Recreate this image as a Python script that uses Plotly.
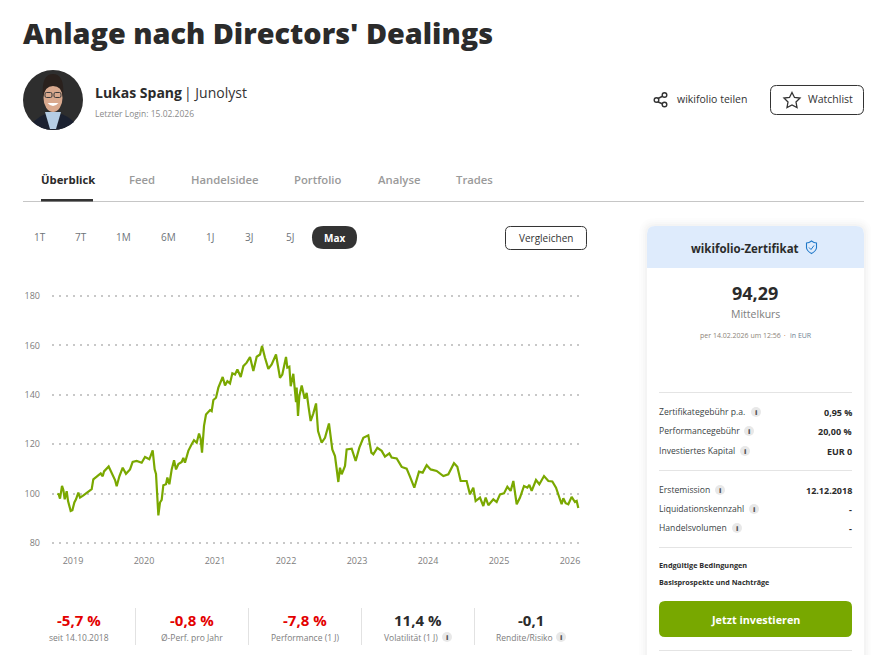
import plotly.graph_objects as go

W, H = 871, 655
FONT = "Open Sans"
GREEN = "#78a800"
DARK = "#2b2b2b"
GRAY = "#6f7479"

years = [2018.779,2018.798,2018.817,2018.845,2018.864,2018.883,2018.911,2018.930,2018.967,2018.991,
2019.019,2019.042,2019.075,2019.099,2019.146,2019.192,2019.263,2019.286,2019.333,2019.390,2019.418,2019.437,2019.502,2019.545,2019.592,2019.615,2019.653,2019.700,2019.746,2019.803,2019.840,2019.897,2019.967,
2020.014,2020.075,2020.122,2020.150,2020.169,2020.202,2020.225,2020.249,2020.272,2020.310,2020.329,2020.357,2020.390,2020.423,2020.451,2020.484,2020.531,2020.554,2020.577,2020.624,2020.671,2020.704,2020.742,2020.775,2020.798,2020.817,2020.845,2020.873,2020.930,2020.953,2020.977,
2021.014,2021.047,2021.108,2021.141,2021.174,2021.211,2021.244,2021.282,2021.315,2021.362,2021.399,2021.446,2021.493,2021.540,2021.587,2021.634,2021.662,2021.704,2021.751,2021.798,2021.859,2021.915,2021.948,
2022.000,2022.019,2022.047,2022.066,2022.103,2022.141,2022.150,2022.169,2022.188,2022.221,2022.263,2022.291,2022.319,2022.347,2022.385,2022.423,2022.451,2022.502,2022.549,2022.605,2022.652,2022.690,2022.737,2022.760,2022.784,2022.831,2022.854,2022.925,2022.981,
2023.033,2023.089,2023.159,2023.202,2023.230,2023.286,2023.347,2023.394,2023.455,2023.488,2023.559,2023.629,2023.699,2023.746,2023.807,2023.873,2023.925,2023.981,
2024.037,2024.122,2024.216,2024.286,2024.366,2024.413,2024.460,2024.544,2024.591,2024.638,2024.671,2024.732,2024.779,2024.812,2024.850,2024.920,2024.967,
2025.014,2025.070,2025.117,2025.164,2025.202,2025.249,2025.296,2025.352,2025.399,2025.427,2025.460,2025.521,2025.568,2025.634,2025.695,2025.751,2025.803,2025.849,2025.882,2025.906,2025.939,2025.976,
2026.023,2026.070,2026.094,2026.117]

values = [100,99.7,98,103.1,101.5,97.7,101,97,93,93.3,
96.4,97.7,100.4,98.4,99.3,100.4,101.8,105.8,107,108.2,107,109,111,108.5,105.5,103,107,110.5,108,109.8,112.8,113.2,112.5,
114.8,113.9,117.5,109.8,108,91.2,96.4,97.5,103.4,103.8,106.5,103.8,109.8,113.5,109.8,112,112.8,114.5,112.5,117.3,120,121.6,120.6,124.3,122.2,116.6,127.4,132,133.8,133.4,137.9,
138.8,142.9,147.2,143.8,145.5,144.6,148.7,148.2,150.3,147.2,151.6,153,155.3,149.6,155.4,156.3,159.8,155,150.5,152.3,156.3,146.9,148.2,
155.3,151,151.4,143.5,148.5,137,142.9,131.4,139.5,143.8,138.4,140.8,134.8,129.4,132.5,136.5,125.3,120.6,122.6,128.4,117.9,115.2,104.7,110.5,107.8,111.2,117.9,118.2,113.2,
118.6,122.6,123.6,116.6,115.9,118.5,117.3,115,116.3,114.6,114.2,110.8,110.1,106.9,102.4,108.9,108.5,111.5,
109.8,109.2,107.1,107.8,112.3,110.9,105.1,105.1,99.7,102.4,97,98.4,95,98.4,95.3,97.7,96.6,
99.7,100.1,102.8,101.1,105.1,95.7,98.4,103.1,102.4,103.5,101.1,105.5,103.8,107.1,105.1,104.9,102.4,98.4,95.7,98.1,96.1,95.7,
98.7,96.6,97,94.2]

year_ticks = [2019,2020,2021,2022,2023,2024,2025,2026]
value_ticks = [80,100,120,140,160,180]
tabs = ["Überblick","Feed","Handelsidee","Portfolio","Analyse","Trades"]
periods = ["1T","7T","1M","6M","1J","3J","5J"]
kpi_values = ["-5,7 %","-0,8 %","-7,8 %","11,4 %","-0,1"]
kpi_labels = ["seit 14.10.2018","Ø-Perf. pro Jahr","Performance (1 J)","Volatilität (1 J)","Rendite/Risiko"]
rows = [("Zertifikategebühr p.a.","0,95 %"),("Performancegebühr","20,00 %"),("Investiertes Kapital","EUR 0"),
        ("Erstemission","12.12.2018"),("Liquidationskennzahl","-"),("Handelsvolumen","-")]

px = lambda x: x / W
py = lambda y: 1 - y / H
ann, shp = [], []

def text(x, y, s, size=10, color=DARK, weight=400, anchor="left", font=FONT):
    ann.append(dict(x=px(x), y=py(y), xref="paper", yref="paper", text=s, showarrow=False,
                    xanchor=anchor, yanchor="middle", borderpad=0, borderwidth=0,
                    font=dict(family=font, size=size, color=color, weight=weight)))

def line(x0, y0, x1, y1, color="#e4e4e4", width=1):
    shp.append(dict(type="line", xref="paper", yref="paper", x0=px(x0), y0=py(y0), x1=px(x1), y1=py(y1),
                    line=dict(color=color, width=width)))

def circle(cx, cy, rx, ry=None, fill="#e6e6e6", stroke=None, width=0):
    ry = rx if ry is None else ry
    shp.append(dict(type="circle", xref="paper", yref="paper", x0=px(cx-rx), x1=px(cx+rx), y0=py(cy+ry), y1=py(cy-ry),
                    fillcolor=fill, line=dict(color=stroke or "rgba(0,0,0,0)", width=width)))

def path(points_d, fill="rgba(0,0,0,0)", stroke="rgba(0,0,0,0)", width=0):
    shp.append(dict(type="path", xref="paper", yref="paper", path=points_d, fillcolor=fill,
                    line=dict(color=stroke, width=width)))

def P(x, y):
    return f"{px(x):.5f},{py(y):.5f}"

def rrect(x0, y0, x1, y1, r=6, fill="rgba(0,0,0,0)", stroke="rgba(0,0,0,0)", width=0, top_only=False):
    rb = 0 if top_only else r
    d = (f"M{P(x0+r,y0)} L{P(x1-r,y0)} Q{P(x1,y0)} {P(x1,y0+r)} L{P(x1,y1-rb)} Q{P(x1,y1)} {P(x1-rb,y1)} "
         f"L{P(x0+rb,y1)} Q{P(x0,y1)} {P(x0,y1-rb)} L{P(x0,y0+r)} Q{P(x0,y0)} {P(x0+r,y0)} Z")
    path(d, fill, stroke, width)

def info(cx, cy):
    circle(cx, cy, 5, fill="#e8e8e8")
    text(cx, cy, "i", size=7.5, color="#555", weight=800, anchor="center")

# header
text(23, 33, "Anlage nach Directors' Dealings", size=28.8, weight=800)
# avatar
circle(53, 100, 30, fill="#2e2e2e")
path(f"M{P(33,122)} Q{P(40,116)} {P(47,113)} L{P(59,113)} Q{P(68,116)} {P(74,122)} Q{P(65,130)} {P(53,130)} Q{P(41,130)} {P(33,122)} Z", fill="#1b2130")
path(f"M{P(45,112)} L{P(61,112)} L{P(56,129)} L{P(50,129)} Z", fill="#b5cde4")
circle(53, 98, 9.5, 14, fill="#d9a98e")
path(f"M{P(43,97)} Q{P(41,74)} {P(53,74)} Q{P(65,74)} {P(63,97)} Q{P(62,86)} {P(53,86)} Q{P(45,86)} {P(43,97)} Z", fill="#2a211d")
rrect(45, 92.5, 52, 97.5, r=1.5, stroke="#3a3a3a", width=1)
rrect(54, 92.5, 61, 97.5, r=1.5, stroke="#3a3a3a", width=1)
path(f"M{P(47.5,103)} Q{P(53,109)} {P(58.5,103)} Z", fill="#ffffff")

text(95, 92, "Lukas Spang", size=14, weight=700)
text(184, 92, "| Junolyst", size=14, color="#333")
text(95, 113, "Letzter Login: 15.02.2026", size=8.5, color="#8a8a8a")

# share
line(657, 99, 664, 95.5, color="#333", width=1.4)
line(657, 101.5, 664, 104.5, color="#333", width=1.4)
for c in [(664.5, 95), (656.5, 100), (664.5, 104.5)]:
    circle(c[0], c[1], 2.3, fill="#ffffff", stroke="#333", width=1.4)
text(677, 99, "wikifolio teilen", size=10.5, color="#333")
rrect(770.5, 85.5, 863.5, 114.5, r=6, fill="#fff", stroke="#333", width=1)
path(f"M{P(792,92.5)} L{P(794.5,97.5)} L{P(800,98)} L{P(796,102)} L{P(797,107.5)} L{P(792,105)} "
     f"L{P(787,107.5)} L{P(788,102)} L{P(784,98)} L{P(789.5,97.5)} Z", stroke="#333", width=1.3)
text(808, 99, "Watchlist", size=10.5, color="#333")

# tabs
for t, x in zip(tabs, [41, 129, 191, 294, 378, 456]):
    first = t == tabs[0]
    text(x, 179.5, t, size=11.3, color=DARK if first else "#9a9a9a", weight=700 if first else 600)
line(23, 201.5, 864, 201.5, color="#c6c6c6", width=1)
shp.append(dict(type="rect", xref="paper", yref="paper", x0=px(41), x1=px(93), y0=py(201.5), y1=py(199),
                fillcolor="#333", line=dict(width=0)))

# period buttons
for t, x in zip(periods, [40, 81, 123, 168, 210, 249, 290]):
    text(x, 237, t, size=10, color=GRAY, anchor="center")
rrect(312, 226, 357, 249, r=11.5, fill="#333")
text(334.5, 237.5, "Max", size=10, color="#fff", weight=700, anchor="center")
rrect(505.5, 226.5, 586.5, 249.5, r=5, fill="#fff", stroke="#333", width=1)
text(546, 238, "Vergleichen", size=10, color="#333", anchor="center")

# KPIs
for i, (v, l) in enumerate(zip(kpi_values, kpi_labels)):
    cx = 79 + i * 113
    text(cx, 620, v, size=15, color="#e30000" if i < 3 else DARK, weight=700, anchor="center")
    text(cx - (7 if i >= 3 else 0), 637, l, size=8.5, color="#7d7d7d", anchor="center")
    if i:
        line(cx - 57 + 0.5, 608, cx - 57 + 0.5, 645, color="#e2e2e2")
info(447, 637)
info(561, 637)

# card
for g, a in [(8, .006), (6, .008), (4, .012), (2, .016)]:
    rrect(647-g, 226-g, 864+g, 700, r=8+g, fill=f"rgba(0,0,0,{a})")
rrect(647, 226, 864, 700, r=8, fill="#ffffff")
rrect(647, 226, 864, 268, r=8, fill="#deebfc", top_only=True)
text(745, 248, "wikifolio-Zertifikat", size=11.5, weight=700, anchor="center")
path(f"M{P(811.5,241)} Q{P(814,243)} {P(816.5,243)} L{P(816.5,248)} Q{P(816,251)} {P(811.5,253.5)} "
     f"Q{P(807,251)} {P(806.5,248)} L{P(806.5,243)} Q{P(809,243)} {P(811.5,241)} Z", stroke="#1f78c8", width=1.1)
path(f"M{P(809,247.5)} L{P(811,249.5)} L{P(814,245.5)}", stroke="#1f78c8", width=1)
text(755, 293, "94,29", size=18, weight=700, anchor="center")
text(755, 314, "Mittelkurs", size=10.5, color="#7d7d7d", anchor="center")
text(700, 335, "per 14.02.2026 um 12:56", size=7, color="#8d8478")
text(785, 335, "•", size=4, color="#d08a5a", anchor="center")
text(790, 335, "in EUR", size=7, color="#6d7f94")
for y in [392.5, 470.5, 547.5, 650.5]:
    line(659, y, 852, y)
row_y = [412, 431, 451, 490, 509, 528]
info_x = [756, 749, 745, 720, 754, 737]
for (lab, val), y, ix in zip(rows, row_y, info_x):
    text(659, y, lab, size=8.6, color="#3a3f45")
    info(ix, y)
    text(852, y, val, size=9, weight=700, anchor="right")
text(659, 565, "Endgültige Bedingungen", size=7.3, weight=700)
text(659, 582, "Basisprospekte und Nachträge", size=7.2, weight=700)
rrect(659, 601, 852, 637, r=6, fill=GREEN)
text(755.5, 619, "Jetzt investieren", size=10.8, color="#fff", weight=700, anchor="center")

fig = go.Figure(go.Scatter(x=years, y=values, mode="lines", line=dict(color="#7aa800", width=2.2), hoverinfo="skip"))
fig.update_layout(
    width=W, height=H, margin=dict(l=0, r=0, t=0, b=0, autoexpand=False), paper_bgcolor="#fff", plot_bgcolor="#fff",
    showlegend=False, annotations=ann, shapes=shp,
    font=dict(family=FONT),
    xaxis=dict(domain=[px(52), px(583)], range=[2018.704, 2026.183], tickmode="array", tickvals=year_ticks,
               ticktext=[str(t) for t in year_ticks], showgrid=False, zeroline=False, showline=False,
               ticks="", ticklabelstandoff=9, tickfont=dict(size=9, color="#7d7d7d", family=FONT)),
    yaxis=dict(domain=[py(545), py(294)], range=[79.2, 180.8], tickmode="array", tickvals=value_ticks,
               showgrid=True, gridcolor="#c8c8c8", gridwidth=2, griddash="2px,5px", zeroline=False, showline=False,
               ticks="", ticklabelstandoff=11, tickfont=dict(size=9, color="#7d7d7d", family=FONT)),
)
fig.write_html("out.html", config=dict(displayModeBar=False), post_script="document.body.style.margin='0';document.documentElement.style.overflow='hidden';")
